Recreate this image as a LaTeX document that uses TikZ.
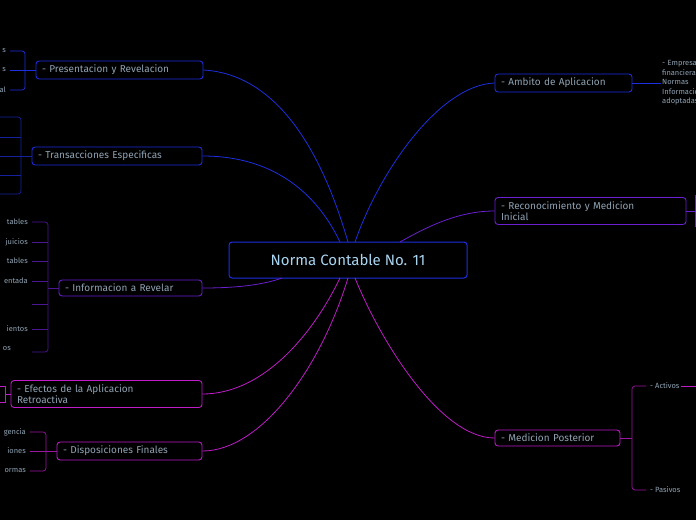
\documentclass[tikz,border=0pt]{standalone}
\usepackage{fontspec}
\setmainfont{Fira Sans}
\usetikzlibrary{positioning}
\definecolor{cblue}{HTML}{1E2FE0}
\definecolor{cpurp}{HTML}{6A1FD0}
\definecolor{cmag}{HTML}{C01CC8}
\definecolor{ctext}{HTML}{8FA3B3}
\definecolor{ccent}{HTML}{A8D4F0}
\tikzset{
  branch/.style={draw, rounded corners=3pt, line width=0.9pt, fill=black, text=ctext, font=\fontsize{10}{11}\selectfont, inner xsep=6pt, inner ysep=4pt, align=left},
  leaf/.style={text=ctext, font=\fontsize{7.5}{8.5}\selectfont, inner sep=1pt, align=left},
}
\begin{document}
\begin{tikzpicture}[x=1pt,y=-1pt]
\useasboundingbox (0,0) rectangle (696,520);
\clip (0,0) rectangle (696,520);
\fill[black] (0,0) rectangle (696,520);

% center
\node[draw=cblue, line width=1pt, rounded corners=3pt, fill=black, text=ccent, font=\fontsize{15}{17}\selectfont, minimum width=238pt, minimum height=36pt] (root) at (348,260) {Norma Contable No. 11};

% left branches
\node[branch, draw=cblue, text width=155pt] (pres) at (119.5,70) {- Presentacion y Revelacion};
\node[branch, draw=cblue, text width=158pt] (trans) at (117,156) {- Transacciones Especificas};
\node[branch, draw=cpurp, text width=131pt] (info) at (130.5,288) {- Informacion a Revelar};
\node[branch, draw=cmag, text width=179pt] (efec) at (106.5,394) {- Efectos de la Aplicacion\\Retroactiva};
\node[branch, draw=cmag, text width=133pt] (disp) at (129.5,451) {- Disposiciones Finales};
% right branches
\node[branch, draw=cblue, text width=125pt] (amb) at (563.5,83) {- Ambito de Aplicacion};
\node[branch, draw=cpurp, text width=179pt] (reco) at (590.5,211) {- Reconocimiento y Medicion\\Inicial};
\node[branch, draw=cmag, text width=113pt] (medi) at (557.5,438) {- Medicion Posterior};

% connectors from root
\draw[cblue, line width=0.8pt] (348,242) .. controls (330,180) and (290,75) .. (pres.east);
\draw[cblue, line width=0.8pt] (340,242) .. controls (320,200) and (280,156) .. (trans.east);
\draw[cpurp, line width=0.8pt] (282,278) .. controls (260,286) and (230,288) .. (info.east);
\draw[cmag, line width=0.8pt] (340,278) .. controls (310,340) and (260,394) .. (efec.east);
\draw[cmag, line width=0.8pt] (348,278) .. controls (320,370) and (260,451) .. (disp.east);
\draw[cblue, line width=0.8pt] (355,242) .. controls (380,170) and (440,85) .. (amb.west);
\draw[cpurp, line width=0.8pt] (400,242) .. controls (430,225) and (460,211) .. (reco.west);
\draw[cmag, line width=0.8pt] (355,278) .. controls (380,340) and (440,438) .. (medi.west);

% presentacion children
\draw[cblue, line width=0.7pt] (pres.west) -- (25,70);
\draw[cblue, line width=0.7pt, rounded corners=3pt] (10,51) -- (25,51) -- (25,90) -- (10,90);
\draw[cblue, line width=0.7pt] (10,70) -- (25,70);
\node[leaf, anchor=east] (p1) at (7,51) {s};
\node[leaf, anchor=east] (p2) at (7,70) {s};
\node[leaf, anchor=east] (p3) at (7,90) {al};

% transacciones children
\draw[cblue!70!black, line width=0.7pt] (trans.west) -- (21,156);
\draw[cblue!70!black, line width=0.7pt, rounded corners=3pt] (0,117) -- (21,117) -- (21,194) -- (0,194);
\foreach \y in {137,156,175} \draw[cblue!70!black, line width=0.7pt] (0,\y) -- (21,\y);

% informacion children
\draw[cpurp!70!black, line width=0.7pt] (info.west) -- (48,288);
\draw[cpurp!70!black, line width=0.7pt, rounded corners=3pt] (32,222) -- (48,222) -- (48,352) -- (32,352);
\foreach \y in {242,261,281,304,329} \draw[cpurp!70!black, line width=0.7pt] (32,\y) -- (48,\y);
\node[leaf, anchor=east] (i1) at (29,222) {tables};
\node[leaf, anchor=east] (i2) at (29,242) {juicios};
\node[leaf, anchor=east] (i3) at (29,261) {tables};
\node[leaf, anchor=east] (i4) at (29,281) {entada};
\node[leaf, anchor=east] (i6) at (29,329) {ientos};
\node[leaf, anchor=east] (i7) at (12,349) {os};

% efectos children
\draw[cmag, line width=0.7pt] (efec.west) -- (5,394);
\draw[cmag, line width=0.7pt] (0,386) -- (5,386) -- (5,402) -- (0,402);

% disposiciones children
\draw[cmag!80!black, line width=0.7pt] (disp.west) -- (46,451);
\draw[cmag!80!black, line width=0.7pt, rounded corners=3pt] (30,432) -- (46,432) -- (46,471) -- (30,471);
\draw[cmag!80!black, line width=0.7pt] (30,451) -- (46,451);
\node[leaf, anchor=east] (d1) at (27,432) {gencia};
\node[leaf, anchor=east] (d2) at (27,451) {iones};
\node[leaf, anchor=east] (d3) at (27,471) {ormas};

% ambito child
\node[leaf, anchor=west, text width=60pt, font=\fontsize{7.5}{9.5}\selectfont] (a1) at (661,83) {- Empresas\\financieras\\Normas\\Informacion\\adoptadas};
\draw[cblue, line width=0.7pt] (amb.east) -- (a1.west);

% reconocimiento child
\draw[cpurp, line width=0.7pt] (reco.east) -- (696,211);
\draw[cpurp, line width=0.7pt] (695,195) -- (695,227);

% medicion children
\draw[cmag!80!black, line width=0.7pt] (medi.east) -- (632,438);
\draw[cmag!80!black, line width=0.7pt, rounded corners=3pt] (646,386) -- (632,386) -- (632,490) -- (646,490);
\node[leaf, anchor=west] (m1) at (649,386) {- Activos};
\node[leaf, anchor=west] (m2) at (649,490) {- Pasivos};
\draw[cmag, line width=0.7pt] (m1.east) -- (696,386);
\end{tikzpicture}
\end{document}
